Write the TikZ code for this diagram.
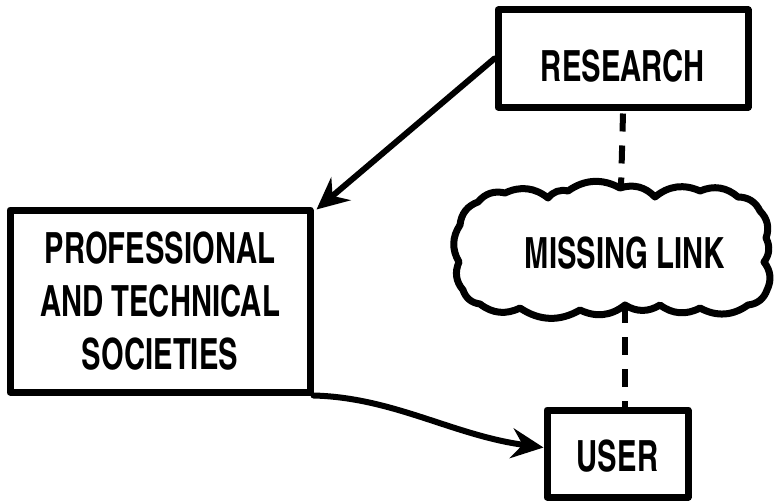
\documentclass[tikz,border=0pt]{standalone}
\usepackage{fontspec}
\usetikzlibrary{arrows.meta}
\newfontfamily\condfont{texgyreheroscn-bold}[Extension=.otf, FakeStretch=0.83]
\begin{document}
\begin{tikzpicture}[x=1pt,y=-1pt,line join=round,line cap=round]
\useasboundingbox (0,0) rectangle (776,503);
\tikzset{
  boxnode/.style={draw=black, line width=7pt, rectangle, inner sep=0pt,
    font=\condfont\fontsize{43}{53}\selectfont, align=center},
  txt/.style={font=\condfont\fontsize{43}{53}\selectfont, inner sep=0pt},
  arrowline/.style={line width=6pt, -{Stealth[length=32pt,width=30pt,inset=11pt]}},
  dashline/.style={line width=6pt, dash pattern=on 18pt off 14pt, line cap=butt},
  cloudline/.style={line width=7pt},
  bl/.style={bend left=32}
}
% boxes
\node[boxnode, minimum width=250pt, minimum height=97pt, text height=46pt, text depth=0pt] (res) at (623,58.5) {RESEARCH};
\node[boxnode, minimum width=300pt, minimum height=182pt] (prof) at (160,301) {PROFESSIONAL\\AND TECHNICAL\\SOCIETIES};
\node[boxnode, minimum width=141pt, minimum height=87pt, text height=36pt, text depth=0pt] (user) at (617.5,453.5) {USER};
% cloud
\draw[cloudline] (460,225) to[bl] (478,202) to[bl] (505,193) to[bl] (548,198) to[bl] (568,191)
  to[bl] (620,188) to[bl] (655,197) to[bl] (700,191) to[bl] (738,197) to[bl] (760,211)
  to[bl] (766,238) to[bl] (764,262) to[bl] (767,290) to[bl] (748,305) to[bl] (700,308)
  to[bl] (660,305) to[bl] (625,305) to[bl] (580,310) to[bl] (520,308) to[bl] (480,304)
  to[bl] (463,290) to[bl] (459,262) to[bl] (460,225) -- cycle;
\node[txt] (link) at (625,253) {MISSING LINK};
\coordinate (ctop) at (621,188);
\coordinate (cbot) at (625,305);
% connectors
\draw[dashline] ([yshift=-3pt]res.south) -- (ctop);
\draw[dashline] (cbot) -- (cbot |- user.north);
\draw[arrowline] (res.west) -- ([xshift=3pt,yshift=-3pt]prof.north east);
\draw[arrowline] (prof.south east) .. controls +(80,2) and +(-90,-12) .. ([yshift=6pt]user.west);
\end{tikzpicture}
\end{document}
